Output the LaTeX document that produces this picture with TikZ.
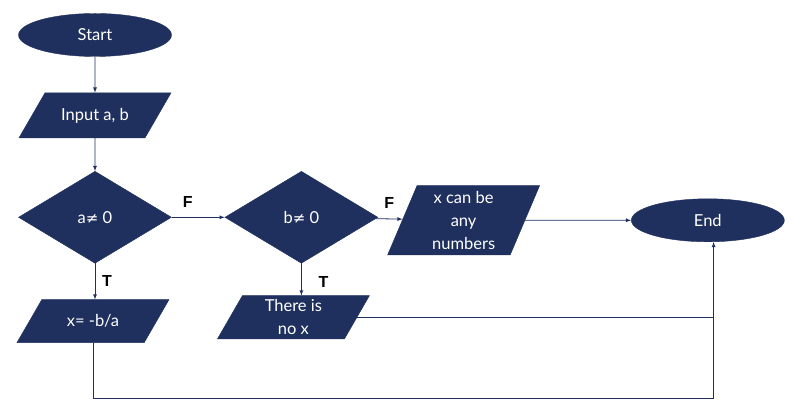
\documentclass[tikz,border=0pt]{standalone}
\usepackage{fontspec}
\setmainfont{Lato}
\newfontfamily\flagfont{Liberation Sans}
\newfontfamily\symfont{DejaVu Sans}
\usepackage{xcolor}
\usepackage{tikz}
\usetikzlibrary{positioning,shapes.geometric,arrows}

\definecolor{navy}{HTML}{1F305E}

\begin{document}
\begin{tikzpicture}[
    x=1pt, y=1pt,
    >=latex,
    terminal/.style={ellipse, draw=navy, fill=navy, text=white, minimum width=153pt, minimum height=43pt, font=\fontsize{16.5}{23}\selectfont},
    iobox/.style={trapezium, trapezium left angle=60, trapezium right angle=120, trapezium stretches body=true, draw=navy, fill=navy, text=white, minimum width=152pt, inner xsep=1pt, inner ysep=15pt, align=center, font=\fontsize{16.5}{23}\selectfont},
    decision/.style={diamond, draw=navy, fill=navy, text=white, minimum width=153pt, minimum height=92pt, inner sep=0pt, font=\fontsize{16.5}{23}\selectfont},
    flag/.style={inner sep=0pt, font=\flagfont\bfseries\fontsize{16}{18}\selectfont},
    arrow/.style={->, draw=navy, line width=0.8pt},
    line/.style={draw=navy, line width=0.8pt}
]
\useasboundingbox (0,0) rectangle (801,406);

% Main column
\node[terminal] (start) at (95,371) {Start};
\node[iobox, below=36pt of start] (input) {Input a, b};
\node[decision, below=33pt of input] (checka) {a{\symfont\fontsize{15}{18}\selectfont ≠} 0};
\node[iobox, below=36pt of checka, xshift=-2pt] (result) {x= -b/a};

% Second test
\node[decision, right=53pt of checka] (checkb) {b{\symfont\fontsize{15}{18}\selectfont ≠} 0};
\node[iobox, inner ysep=4pt, below=32pt of checkb, xshift=-8pt] (nosol) {There is\\no x};
\node[iobox, trapezium left angle=67, trapezium right angle=113, inner ysep=5.5pt, right=24pt of checkb, yshift=-3pt] (anynum) {x can be\\any\\numbers};

% End
\node[terminal, right=106pt of anynum] (finish) {End};

% Labels
\node[flag, above right=10pt and 11pt of checka.east] (fa) {F};
\node[flag, above right=9pt and 6pt of checkb.east] (fb) {F};
\node[flag, below right=12pt and 7pt of checka.south] (ta) {T};
\node[flag, below right=13pt and 17pt of checkb.south] (tb) {T};

% Arrows
\draw[arrow] (start) -- (input);
\draw[arrow] (input) -- (checka);
\draw[arrow] (checka.south) -- (checka.south |- result.north);
\draw[arrow] (checka) -- (checkb);
\draw[arrow] (checkb.south) -- (checkb.south |- nosol.north);
\draw[arrow] (checkb) -- (anynum);
\draw[arrow] (anynum) -- (finish);
\draw[line] (nosol.east) -- (nosol.east -| finish.-75);
\draw[arrow] (result.south) -- ++(0,-56) -| (finish.-75);

\end{tikzpicture}
\end{document}
